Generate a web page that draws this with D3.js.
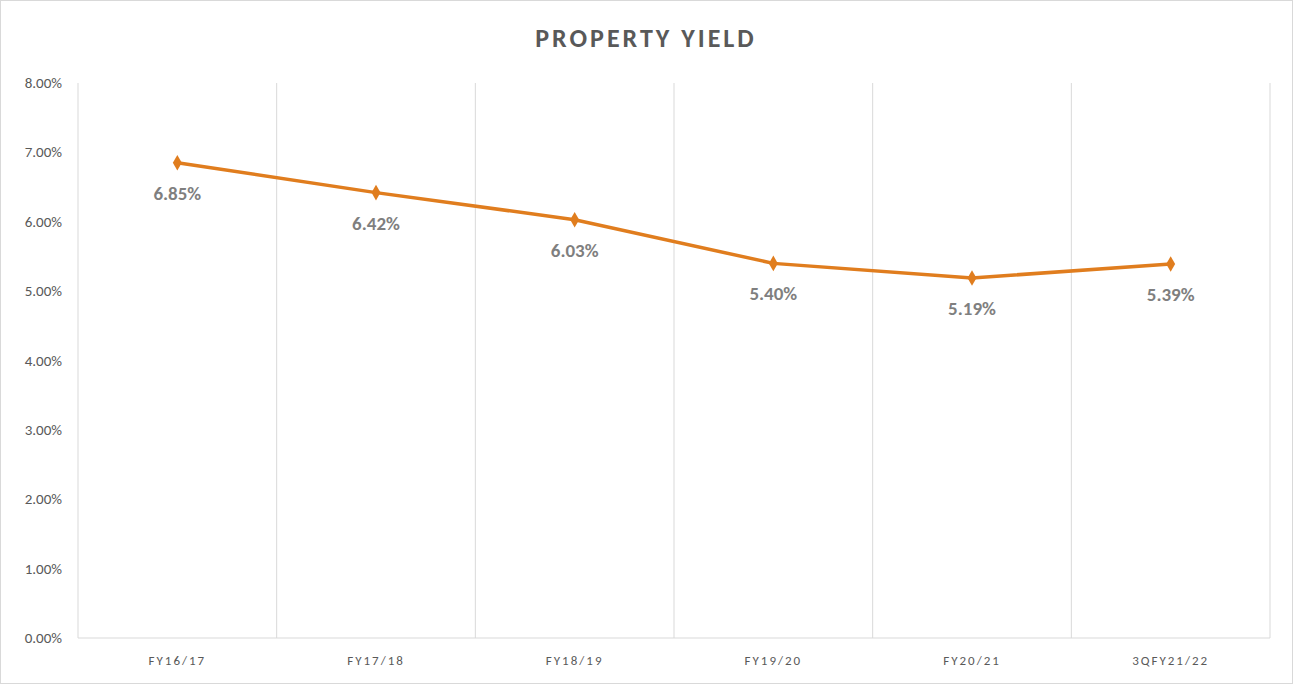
<!DOCTYPE html><html><head><meta charset="utf-8">
<script src="https://cdn.jsdelivr.net/npm/d3@7"></script>
<style>body{margin:0;background:#fff}text{font-family:Calibri,Carlito,"Liberation Sans",sans-serif}</style></head><body>
<svg id="c" width="1293" height="684"></svg>
<script>
const categories=["FY16/17","FY17/18","FY18/19","FY19/20","FY20/21","3QFY21/22"];
const values=[6.85,6.42,6.03,5.40,5.19,5.39];
const yTicks=[0,1,2,3,4,5,6,7,8];
const svg=d3.select("#c");
svg.append("rect").attr("x",0.5).attr("y",0.5).attr("width",1292).attr("height",683).attr("fill","#fff").attr("stroke","#d9d9d9");
const m={l:78,r:1270,t:83,b:638};
const x=d3.scaleBand().domain(categories).range([m.l,m.r]);
const y=d3.scaleLinear().domain([0,8]).range([m.b,m.t]);
svg.append("text").attr("x",646).attr("y",47).attr("text-anchor","middle").attr("font-size",26).attr("font-weight","bold").attr("letter-spacing",3).attr("fill","#595959").text("PROPERTY YIELD");
// vertical gridlines
const bounds=categories.map(c=>x(c)).concat([m.r]);
svg.selectAll(".vg").data(bounds).enter().append("line").attr("x1",d=>d).attr("x2",d=>d).attr("y1",m.t).attr("y2",m.b).attr("stroke","#d9d9d9");
svg.append("line").attr("x1",m.l).attr("x2",m.r).attr("y1",m.b).attr("y2",m.b).attr("stroke","#d9d9d9");
svg.selectAll(".yl").data(yTicks).enter().append("text").attr("x",62).attr("y",d=>y(d)+5).attr("text-anchor","end").attr("font-size",15).attr("fill","#595959").text(d=>d.toFixed(2)+"%");
svg.selectAll(".xl").data(categories).enter().append("text").attr("x",d=>x(d)+x.bandwidth()/2).attr("y",665).attr("text-anchor","middle").attr("font-size",13).attr("letter-spacing",2).attr("fill","#595959").text(d=>d);
const pts=categories.map((c,i)=>[x(c)+x.bandwidth()/2,y(values[i])]);
svg.append("path").attr("d",d3.line()(pts)).attr("fill","none").attr("stroke","#E07D1E").attr("stroke-width",3.5).attr("stroke-linejoin","round");
svg.selectAll(".mk").data(pts).enter().append("path").attr("d",d3.symbol(d3.symbolDiamond,70)).attr("transform",d=>`translate(${d[0]},${d[1]})`).attr("fill","#E07D1E");
svg.selectAll(".dl").data(pts).enter().append("text").attr("x",d=>d[0]).attr("y",(d)=>d[1]+37).attr("text-anchor","middle").attr("font-size",19).attr("font-weight","bold").attr("fill","#7f7f7f").text((d,i)=>values[i].toFixed(2)+"%");
</script></body></html>
